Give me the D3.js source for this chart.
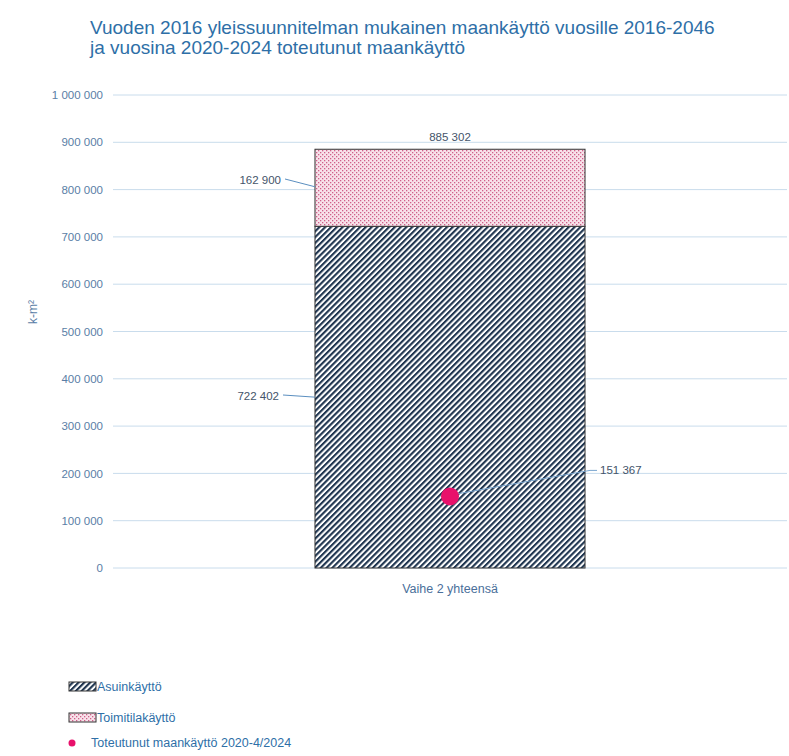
<!DOCTYPE html>
<html><head><meta charset="utf-8">
<script src="https://cdn.jsdelivr.net/npm/d3@7"></script>
<style>body{margin:0;background:#fff;font-family:"Liberation Sans",Arial,sans-serif;}</style>
</head><body>
<script>
const categories = ["Vaihe 2 yhteensä"];
const seriesNames = ["Asuinkäyttö", "Toimitilakäyttö"];
const asuinkaytto = [722402];
const toimitilakaytto = [162900];
const totals = [885302];
const toteutunut = [151367];
const yTicks = [0,100000,200000,300000,400000,500000,600000,700000,800000,900000,1000000];
const titleLines = ["Vuoden 2016 yleissuunnitelman mukainen maankäyttö vuosille 2016-2046","ja vuosina 2020-2024 toteutunut maankäyttö"];
const legendLabels = ["Asuinkäyttö","Toimitilakäyttö","Toteutunut maankäyttö 2020-4/2024"];

(function(){
const W=789,H=756;
const svg=d3.select("body").append("svg").attr("width",W).attr("height",H);
const defs=svg.append("defs");
const hatch=defs.append("pattern").attr("id","hatch").attr("patternUnits","userSpaceOnUse")
  .attr("width",4.1).attr("height",4.1).attr("patternTransform","rotate(45)");
hatch.append("rect").attr("width",4.1).attr("height",4.1).attr("fill","#fff");
hatch.append("rect").attr("x",0).attr("width",2.1).attr("height",4.1).attr("fill","#1f3550");
const dots=defs.append("pattern").attr("id","dots").attr("patternUnits","userSpaceOnUse")
  .attr("width",4).attr("height",4);
dots.append("rect").attr("width",4).attr("height",4).attr("fill","#f8e2ea");
dots.append("rect").attr("x",0).attr("y",0).attr("width",1.3).attr("height",1.3).attr("fill","#d0608a");
dots.append("rect").attr("x",2).attr("y",2).attr("width",1.3).attr("height",1.3).attr("fill","#d0608a");

const pl=113,pr=787,pt=95,pb=568;
const y=d3.scaleLinear().domain([0,1000000]).range([pb,pt]);
const x=d3.scaleBand().domain(categories).range([pl,pr]).paddingInner(0).paddingOuter(0.748);
const fmt=v=>d3.format(",")(v).replace(/,/g," ");

svg.append("text").attr("x",90).attr("y",34).attr("fill","#2e6fa7").attr("font-size",19)
 .selectAll("tspan").data(titleLines).join("tspan").attr("x",90).attr("dy",(d,i)=>i?20:0).text(d=>d);

svg.append("g").selectAll("line").data(yTicks).join("line")
 .attr("x1",pl).attr("x2",pr).attr("y1",d=>y(d)).attr("y2",d=>y(d))
 .attr("stroke","#c9dcec").attr("stroke-width",1);
const yAxis=d3.axisLeft(y).tickValues(yTicks).tickFormat(fmt).tickSize(0).tickPadding(0);
const ga=svg.append("g").attr("transform",`translate(${pl-10},0)`).call(yAxis);
ga.select(".domain").remove();
ga.selectAll("text").attr("fill","#5a7ea6").attr("font-size",11.5).attr("font-family","Liberation Sans, Arial, sans-serif");

svg.append("text").attr("transform","translate(37,312) rotate(-90)").attr("text-anchor","middle")
 .attr("fill","#5a7ea6").attr("font-size",12).text("k-m²");

const bw=x.bandwidth();
categories.forEach((c,i)=>{
  const x0=x(c);
  svg.append("rect").attr("x",x0).attr("y",y(asuinkaytto[i])).attr("width",bw)
   .attr("height",y(0)-y(asuinkaytto[i])).attr("fill","url(#hatch)").attr("stroke","#333").attr("stroke-width",1);
  svg.append("rect").attr("x",x0).attr("y",y(asuinkaytto[i]+toimitilakaytto[i])).attr("width",bw)
   .attr("height",y(asuinkaytto[i])-y(asuinkaytto[i]+toimitilakaytto[i])).attr("fill","url(#dots)").attr("stroke","#333").attr("stroke-width",1);
  const cx=x0+bw/2;
  svg.append("text").attr("x",cx).attr("y",y(totals[i])-8).attr("text-anchor","middle")
   .attr("fill","#44546a").attr("font-size",11.5).text(fmt(totals[i]));
  const lab=(v,yv,tx,ty)=>{
    svg.append("path").attr("d",`M${tx+4},${ty-5} L${x0},${yv}`).attr("fill","none").attr("stroke","#5b8fc0").attr("stroke-width",1);
    svg.append("text").attr("x",tx).attr("y",ty).attr("text-anchor","end").attr("fill","#44546a").attr("font-size",11.5).text(fmt(v));
  };
  lab(toimitilakaytto[i], y(asuinkaytto[i]+toimitilakaytto[i]/2)-1, 281, 184);
  lab(asuinkaytto[i], y(asuinkaytto[i]/2), 279, 400);
  const py=y(toteutunut[i]);
  svg.append("path").attr("d",`M${cx+4},${py-2} L${x0+bw+5},${py-26} L${x0+bw+12},${py-26}`).attr("fill","none").attr("stroke","#7aa6cf").attr("stroke-width",1);
  svg.append("circle").attr("cx",cx).attr("cy",py).attr("r",9).attr("fill","#e8116b");
  svg.append("text").attr("x",x0+bw+15).attr("y",py-22).attr("fill","#44546a").attr("font-size",11.5).text(fmt(toteutunut[i]));
  svg.append("text").attr("x",cx).attr("y",y(0)+25).attr("text-anchor","middle").attr("fill","#4a6f9a").attr("font-size",12.5).text(c);
});

const lg=svg.append("g");
lg.append("rect").attr("x",69).attr("y",682).attr("width",27).attr("height",9).attr("fill","url(#hatch)").attr("stroke","#333");
lg.append("text").attr("x",97).attr("y",691).attr("fill","#2e6fa7").attr("font-size",12.5).text(legendLabels[0]);
lg.append("rect").attr("x",69).attr("y",713).attr("width",27).attr("height",9).attr("fill","url(#dots)").attr("stroke","#333");
lg.append("text").attr("x",97).attr("y",722).attr("fill","#2e6fa7").attr("font-size",12.5).text(legendLabels[1]);
lg.append("circle").attr("cx",72).attr("cy",743).attr("r",3.5).attr("fill","#e8116b");
lg.append("text").attr("x",91).attr("y",747).attr("fill","#2e6fa7").attr("font-size",12.5).text(legendLabels[2]);
})();
</script>
</body></html>
